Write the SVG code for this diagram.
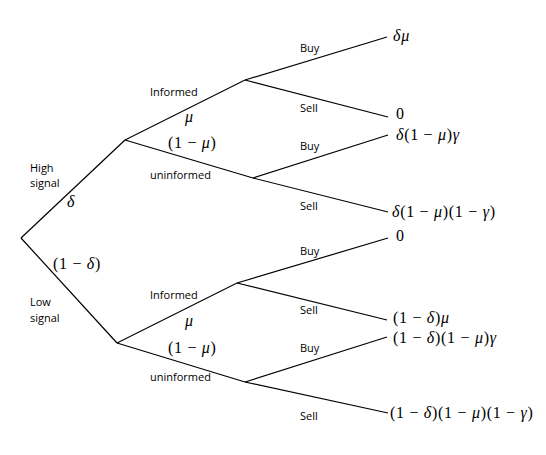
<svg xmlns="http://www.w3.org/2000/svg" width="546" height="455" viewBox="0 0 546 455">
<style>
.e{stroke:#000;stroke-width:1.2;fill:none}
.l{font-family:"Open Sans","Liberation Sans",sans-serif;font-size:11px;fill:#000}
.m{font-family:"Liberation Serif","DejaVu Serif",serif;font-size:16px;letter-spacing:0.7px;fill:#000}
.g{font-style:italic}
</style>
<rect width="546" height="455" fill="#fff"/>
<g id="connectors">
<path class="e" d="M21,238 L125,140"/>
<path class="e" d="M21,238 L117,343"/>
<path class="e" d="M125,140 L245,80"/>
<path class="e" d="M125,140 L253,178"/>
<path class="e" d="M117,343 L237,283"/>
<path class="e" d="M117,343 L245,382"/>
<path class="e" d="M245,80 L387,37"/>
<path class="e" d="M245,80 L388,117"/>
<path class="e" d="M253,178 L388,135"/>
<path class="e" d="M253,178 L388,212"/>
<path class="e" d="M237,283 L388,238"/>
<path class="e" d="M237,283 L387,320"/>
<path class="e" d="M245,382 L387,337"/>
<path class="e" d="M245,382 L388,413"/>
</g>
<g id="root">
<text class="l" x="30" y="172">High</text>
<text class="l" x="30" y="187">signal</text>
<text class="m" x="67" y="207"><tspan class="g">δ</tspan></text>
<text class="m" x="53" y="269">(1 − <tspan class="g">δ</tspan>)</text>
<text class="l" x="30" y="306">Low</text>
<text class="l" x="30" y="322">signal</text>
</g>
<g id="high">
<text class="l" x="150" y="96">Informed</text>
<text class="m" x="185" y="122"><tspan class="g">μ</tspan></text>
<text class="m" x="168" y="148">(1 − <tspan class="g">μ</tspan>)</text>
<text class="l" x="150" y="179">uninformed</text>
</g>
<g id="low">
<text class="l" x="150" y="299">Informed</text>
<text class="m" x="185" y="326"><tspan class="g">μ</tspan></text>
<text class="m" x="168" y="353">(1 − <tspan class="g">μ</tspan>)</text>
<text class="l" x="150" y="381">uninformed</text>
</g>
<g id="high-informed">
<text class="l" x="300" y="52">Buy</text>
<text class="l" x="300" y="112">Sell</text>
</g>
<g id="high-uninformed">
<text class="l" x="300" y="150">Buy</text>
<text class="l" x="300" y="210">Sell</text>
</g>
<g id="low-informed">
<text class="l" x="300" y="255">Buy</text>
<text class="l" x="300" y="314">Sell</text>
</g>
<g id="low-uninformed">
<text class="l" x="300" y="352">Buy</text>
<text class="l" x="300" y="420">Sell</text>
</g>
<g id="t1"><text class="m" x="393" y="41"><tspan class="g">δμ</tspan></text></g>
<g id="t2"><text class="m" x="396" y="119">0</text></g>
<g id="t3"><text class="m" x="396" y="140"><tspan class="g">δ</tspan>(1 − <tspan class="g">μ</tspan>)<tspan class="g">γ</tspan></text></g>
<g id="t4"><text class="m" x="392" y="217"><tspan class="g">δ</tspan>(1 − <tspan class="g">μ</tspan>)(1 − <tspan class="g">γ</tspan>)</text></g>
<g id="t5"><text class="m" x="396" y="241">0</text></g>
<g id="t6"><text class="m" x="393" y="323">(1 − <tspan class="g">δ</tspan>)<tspan class="g">μ</tspan></text></g>
<g id="t7"><text class="m" x="393" y="343">(1 − <tspan class="g">δ</tspan>)(1 − <tspan class="g">μ</tspan>)<tspan class="g">γ</tspan></text></g>
<g id="t8"><text class="m" x="390" y="418">(1 − <tspan class="g">δ</tspan>)(1 − <tspan class="g">μ</tspan>)(1 − <tspan class="g">γ</tspan>)</text></g>
</svg>
